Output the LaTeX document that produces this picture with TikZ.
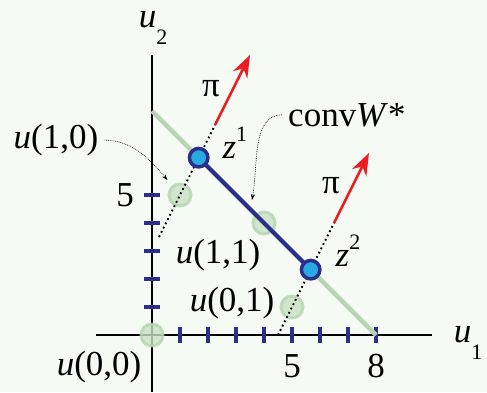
\documentclass[tikz,border=0pt]{standalone}
\usepackage{fontspec}
\setmainfont{Liberation Serif}
\usetikzlibrary{arrows.meta}
\definecolor{bgpaper}{RGB}{245,250,245}
\definecolor{ringgreen}{RGB}{181,214,176}
\definecolor{dotgreen}{RGB}{200,226,194}
\definecolor{navy}{RGB}{43,46,140}
\definecolor{skyblue}{RGB}{41,171,226}
\definecolor{arrowred}{RGB}{237,28,36}
\newcommand{\lowidx}[2]{\textit{#1}\raisebox{-17pt}{\fontsize{22}{22}\selectfont #2}}
\newcommand{\highidx}[2]{\textit{#1}\raisebox{17pt}{\fontsize{22}{22}\selectfont #2}}

\begin{document}
\begin{tikzpicture}[x=28pt,y=28pt,>=Stealth,
  lbl/.style={font=\fontsize{35}{40}\selectfont,inner sep=0pt},
  gdot/.style={circle,minimum size=22pt,inner sep=0pt,fill=dotgreen,draw=ringgreen,line width=3pt,opacity=0.8},
  zdot/.style={circle,minimum size=18.5pt,inner sep=0pt,fill=skyblue,draw=navy,line width=3.5pt},
  tick/.style={navy,line width=4pt},
  dots/.style={line width=1.8pt,dash pattern=on 1.8pt off 3pt},
  pi/.style={arrowred,line width=2.6pt,-{Stealth[length=22pt,width=16pt]}},
  note/.style={line width=0.6pt,dash pattern=on 0.8pt off 1pt,-{Stealth[length=6pt,width=4pt]},shorten <=6pt}]
  \fill[bgpaper] (-152pt,-57pt) rectangle (335pt,335pt);
  \useasboundingbox (-152pt,-57pt) rectangle (335pt,335pt);
  % axes
  \coordinate (xl) at (-2,0);
  \coordinate (xr) at (10,0);
  \coordinate (yb) at (0pt,-57pt);
  \coordinate (yt) at (0,10);
  \draw[line width=1.3pt] (xl) -- (xr);
  \draw[line width=1.3pt] (yb) -- (yt);
  \foreach \i in {1,...,8} \draw[tick] (\i,-0.27) -- (\i,0.27);
  \foreach \i in {1,...,5} \draw[tick] (-0.27,\i) -- (0.27,\i);
  % the line u1+u2=8
  \coordinate (ga) at (0,8);
  \coordinate (gb) at (8,0);
  \draw[ringgreen,line width=4.5pt] (ga) -- (gb);
  % points u(.,.)
  \node[gdot] (u00) at (0,0) {};
  \node[gdot] (u10) at (1,5) {};
  \node[gdot] (u11) at (4,4) {};
  \node[gdot] (u01) at (5,1) {};
  % conv W*
  \coordinate (z1) at (1.667,6.333);
  \coordinate (z2) at (5.667,2.333);
  \draw[navy,line width=4pt] (z1) -- (z2);
  % directions pi
  \coordinate (d1s) at (0.25,3.5);
  \coordinate (d1e) at (2.25,7.5);
  \coordinate (p1) at (3.5,10);
  \coordinate (d2s) at (4.5,0);
  \coordinate (d2e) at (6.5,4);
  \coordinate (p2) at (7.75,6.5);
  \draw[dots] (d1s) -- (d1e);
  \draw[dots] (d2s) -- (d2e);
  \draw[pi] (d1e) -- (p1);
  \draw[pi] (d2e) -- (p2);
  \node[zdot] (nz1) at (z1) {};
  \node[zdot] (nz2) at (z2) {};
  % labels
  \node[lbl] (lu2) at (0.04,10.96) {\lowidx{u}{2}};
  \node[lbl] (lu1) at (11.29,-0.29) {\lowidx{u}{1}};
  \node[lbl] (ly5) at (-0.96,5) {5};
  \node[lbl] (lx5) at (5,-1.11) {5};
  \node[lbl] (lx8) at (8,-1.11) {8};
  \node[lbl] (l10) at (-3.43,6.96) {\textit{u}(1,0)};
  \node[lbl] (l11) at (2.36,2.86) {\textit{u}(1,1)};
  \node[lbl] (l01) at (2.86,1.14) {\textit{u}(0,1)};
  \node[lbl] (l00) at (-1.89,-1.14) {\textit{u}(0,0)};
  \node[lbl] (lpi1) at (2.11,8.79) {π};
  \node[lbl] (lpi2) at (6.39,5.32) {π};
  \node[lbl] (lz1) at (2.96,6.86) {\highidx{z}{1}};
  \node[lbl] (lz2) at (7.0,3.0) {\highidx{z}{2}};
  \node[lbl] (lconv) at (6.96,7.86) {conv\textit{W}*};
  % pointers
  \coordinate (cw) at (3.57,4.82);
  \draw[note,shorten >=7pt] (l10.east) to[out=0,in=130] (u10);
  \draw[note] (lconv.west) to[out=180,in=80] (cw);
\end{tikzpicture}
\end{document}
